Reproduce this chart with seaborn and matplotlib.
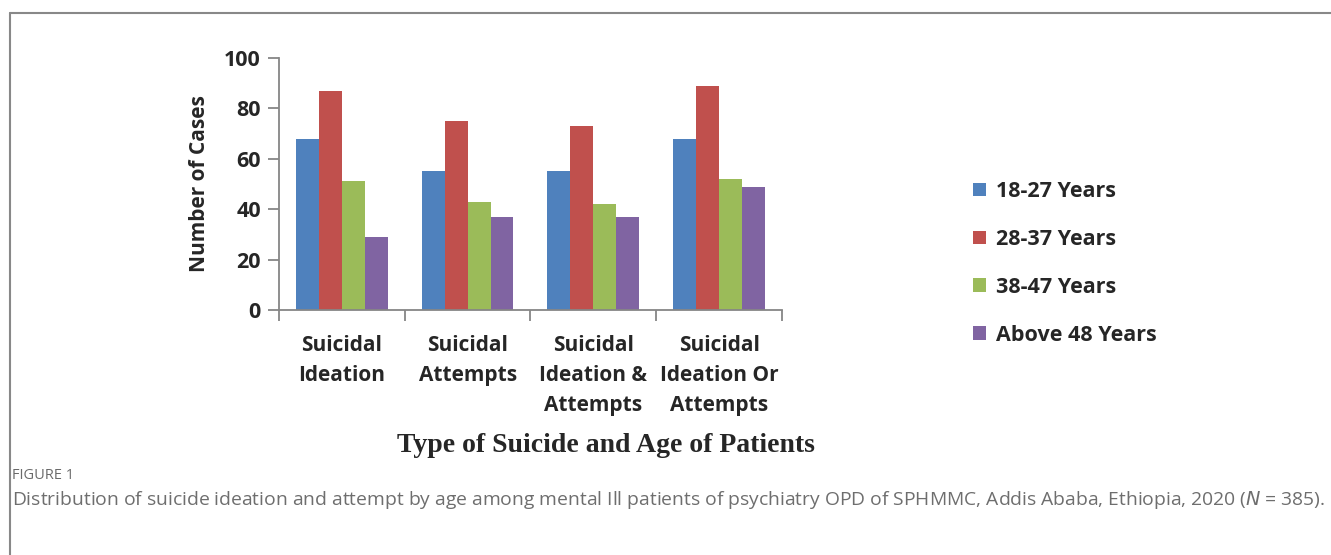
import pandas as pd
import numpy as np
import matplotlib.pyplot as plt
import seaborn as sns
from matplotlib.lines import Line2D

# data
categories = ['Suicidal\nIdeation', 'Suicidal\nAttempts', 'Suicidal\nIdeation &\nAttempts', 'Suicidal\nIdeation Or\nAttempts']
age_groups = ['18-27 Years', '28-37 Years', '38-47 Years', 'Above 48 Years']
age_18_27 = [68, 55, 55, 68]
age_28_37 = [87, 75, 73, 89]
age_38_47 = [51, 43, 42, 52]
age_48_up = [29, 37, 37, 49]
colors = ['#4F81BD', '#C0504D', '#9BBB59', '#8064A2']

df = pd.DataFrame({'Type': categories * 4,
                   'Age': np.repeat(age_groups, 4),
                   'Cases': age_18_27 + age_28_37 + age_38_47 + age_48_up})

sns.set_style('white')
plt.rcParams['font.family'] = ['Open Sans', 'DejaVu Sans']

fig = plt.figure(figsize=(13.31, 5.55), dpi=100)
ax = fig.add_axes([0.2096, 0.4414, 0.3779, 0.4541])

sns.barplot(data=df, x='Type', y='Cases', hue='Age', palette=colors, width=0.73,
            gap=0, saturation=1, linewidth=0, ax=ax, legend=True)

ax.set_ylim(0, 100)
ax.set_xlim(-0.5, 3.5)
ax.set_yticks(range(0, 101, 20))
ax.set_yticklabels([str(v) for v in range(0, 101, 20)], fontsize=15.5, fontweight='bold')
ax.set_xticks([0, 1, 2, 3])
ax.set_xticklabels(categories, fontsize=15, fontweight='bold', linespacing=1.55, va='top')
ax.set_xticks([-0.5, 0.5, 1.5, 2.5, 3.5], minor=True)
ax.tick_params(axis='x', which='major', length=0, pad=18)
ax.tick_params(axis='x', which='minor', length=8, color='#868686', width=1.3, direction='out')
ax.tick_params(axis='y', length=8, color='#868686', width=1.3, direction='out', pad=5)
ax.yaxis.set_ticks_position('left')
ax.xaxis.set_ticks_position('bottom')

for s in ['top', 'right']:
    ax.spines[s].set_visible(False)
for s in ['left', 'bottom']:
    ax.spines[s].set_color('#868686')
    ax.spines[s].set_linewidth(1.3)

ax.set_ylabel('Number of Cases', fontsize=15, fontweight='bold', labelpad=10)
ax.set_xlabel('')

h, l = ax.get_legend_handles_labels()
ax.legend(h, l, loc='center left', bbox_to_anchor=(1.342, 0.185), frameon=False,
          prop={'size': 15.5, 'weight': 'bold'}, handlelength=0.6, handleheight=0.6,
          handletextpad=0.45, labelspacing=1.25)

fig.text(0.4553, 0.197, 'Type of Suicide and Age of Patients', ha='center', va='center',
         fontsize=20, fontweight='bold', family='Liberation Serif')

fig.text(0.009, 0.143, 'FIGURE 1', fontsize=10.5, color='#6a6a6a', family='Open Sans',
         va='center')
fig.text(0.009, 0.099, 'Distribution of suicide ideation and attempt by age among mental Ill patients '
         'of psychiatry OPD of SPHMMC, Addis Ababa, Ethiopia, 2020 ($\\it{N}$ = 385).',
         fontsize=13.85, color='#6e6e6e', family='Open Sans', va='center')

# outer frame (top and left edges)
fig.add_artist(Line2D([0.0075, 1.0], [0.976, 0.976], color='#888888', lw=1.5, transform=fig.transFigure))
fig.add_artist(Line2D([0.0075, 0.0075], [0.0, 0.976], color='#888888', lw=1.5, transform=fig.transFigure))

fig.savefig('out.png', dpi=100)
